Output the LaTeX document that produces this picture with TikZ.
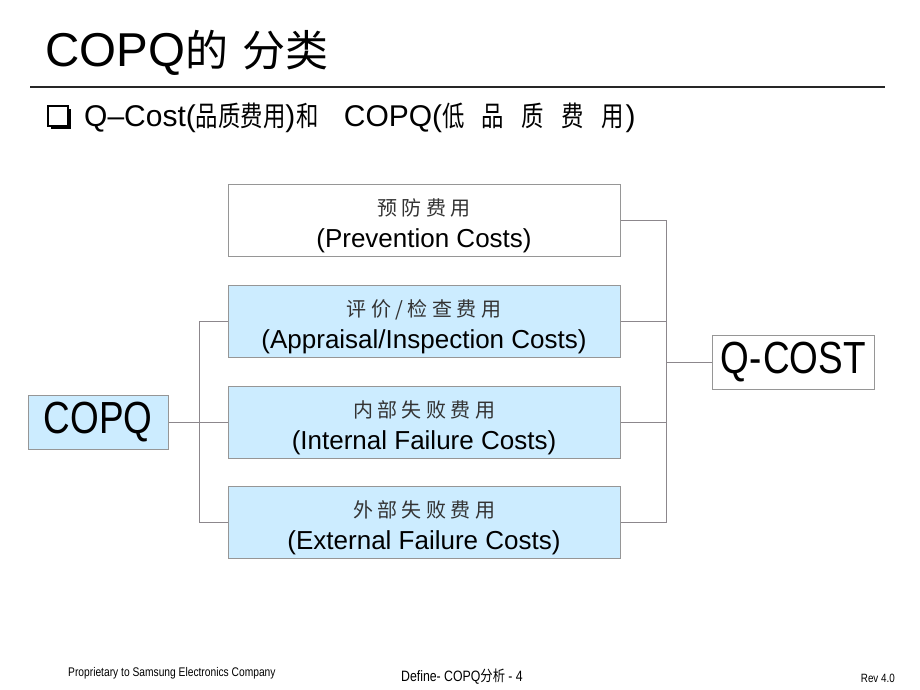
\documentclass[tikz,border=0pt]{standalone}
\usepackage{fontspec}
\setmainfont{Liberation Sans}
\newfontfamily\cjk{Noto Sans CJK SC}
\newfontfamily\cjkn[FakeStretch=0.8]{Noto Sans CJK SC}
\newfontfamily\cjknwide[FakeStretch=0.8,LetterSpace=62]{Noto Sans CJK SC}
\newfontfamily\cjkl[LetterSpace=22]{Noto Sans CJK SC}
\newfontfamily\narrowf[FakeStretch=0.82]{Liberation Sans}
\newfontfamily\narrowcjk[FakeStretch=0.82]{Noto Sans CJK SC}
\definecolor{boxblue}{RGB}{204,236,255}
\definecolor{boxline}{RGB}{150,150,150}
\definecolor{conn}{RGB}{140,135,140}
\tikzset{
  costbox/.style={draw=boxline, line width=1pt, minimum width=392pt, minimum height=72pt, inner sep=0pt},
  bluefill/.style={fill=boxblue},
  whitefill/.style={fill=white},
  boxtext/.style={align=center, inner sep=0pt, font=\fontsize{26}{32}\selectfont},
  endbox/.style={draw=boxline, line width=1pt, minimum height=54pt, inner sep=0pt, font=\narrowf\fontsize{45}{50}\selectfont},
  cline/.style={draw=conn, line width=1pt},
  foot/.style={inner sep=0pt, anchor=base west}
}
\newcommand{\cjkline}[1]{{\cjkl\fontsize{20}{32}\selectfont\color{black!80}#1}}
\begin{document}
\begin{tikzpicture}[x=1pt,y=-1pt]
\useasboundingbox[fill=white] (0,0) rectangle (920,690);
% title
\node[anchor=base west, inner sep=0pt, font=\fontsize{47.5}{55}\selectfont] (title) at (45,67) {COPQ{\cjk\fontsize{43}{50}\selectfont 的}\hspace{14pt}{\cjk\fontsize{43}{50}\selectfont 分类}};
\coordinate (ruleL) at (30,87);
\coordinate (ruleR) at (885,87);
\draw[line width=1.2pt, black!85] (ruleL) -- (ruleR);
% checkbox
\fill[black] (51,109) rectangle (71,129);
\draw[fill=white, line width=1.3pt] (48,106) rectangle (68,126);
\node[anchor=base west, inner sep=0pt, font=\fontsize{30}{34}\selectfont] (sub) at (84,127) {Q–Cost({\cjkn\fontsize{28}{30}\selectfont 品质费用})\kern1pt{\cjkn\fontsize{28}{30}\selectfont 和}\kern25pt COPQ({\cjknwide\fontsize{28}{30}\selectfont 低品质费用}\kern2pt)};
% cost boxes
\node[costbox, whitefill] (p1) at (424,220) {};
\node[costbox, bluefill] (p2) at (424,321) {};
\node[costbox, bluefill] (p3) at (424,422) {};
\node[costbox, bluefill] (p4) at (424,522) {};
\node[boxtext] (p1t) at ([yshift=-6pt]p1.center) {\cjkline{预防费用}\\(Prevention Costs)};
\node[boxtext] (p2t) at ([yshift=-6pt]p2.center) {\cjkline{评价/检查费用}\\(Appraisal/Inspection Costs)};
\node[boxtext] (p3t) at ([yshift=-6pt]p3.center) {\cjkline{内部失败费用}\\(Internal Failure Costs)};
\node[boxtext] (p4t) at ([yshift=-6pt]p4.center) {\cjkline{外部失败费用}\\(External Failure Costs)};
% end boxes
\node[endbox, bluefill, minimum width=140pt] (copq) at (98,422) {COPQ};
\node[endbox, whitefill, minimum width=162pt] (qcost) at (793,362) {Q\kern1pt-\kern1ptCOST};
% left connectors
\draw[cline] (copq.east) -- (p3.west);
\draw[cline] (p2.west) -- ++(-28,0) |- (p4.west);
% right connectors
\draw[cline] (p1.east) -- ++(46,0) |- (p4.east);
\draw[cline] (p2.east) -- ++(46,0);
\draw[cline] (p3.east) -- ++(46,0);
\draw[cline] (qcost.west) -- ++(-46,0);
% footer
\node[foot, font=\narrowf\fontsize{12.5}{14}\selectfont] (f1) at (68,676) {Proprietary to Samsung Electronics Company};
\node[inner sep=0pt, anchor=base, font=\narrowf\fontsize{15}{17}\selectfont] (f2) at (462,681) {Define- COPQ{\narrowcjk 分析} - 4};
\node[inner sep=0pt, anchor=base east, font=\narrowf\fontsize{12}{13}\selectfont] (f3) at (895,682) {Rev 4.0};
\end{tikzpicture}
\end{document}
